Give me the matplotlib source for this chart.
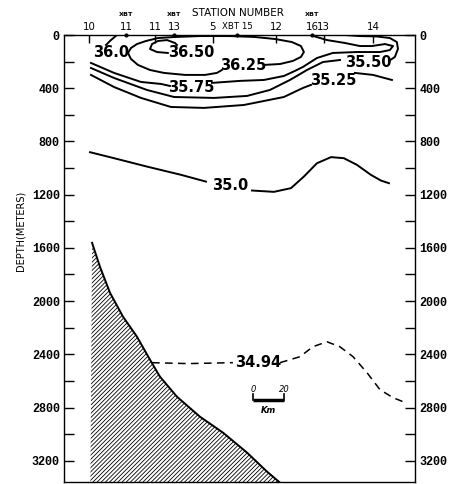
import matplotlib
matplotlib.use('Agg')
import matplotlib.pyplot as plt
from matplotlib import font_manager
from matplotlib.ticker import MultipleLocator

# pick a narrow face if there is one
names = {f.name for f in font_manager.fontManager.ttflist}
if 'Liberation Sans Narrow' in names:
    FAM, K = 'Liberation Sans Narrow', 1.0
else:
    FAM, K = 'DejaVu Sans', 0.78
plt.rcParams['font.family'] = FAM
plt.rcParams['hatch.linewidth'] = 0.6

# stations along the section (km)
stations = ['10', '11', '5', '12', '13', '14']
station_km = [16.1, 58.7, 96.1, 136.8, 167.7, 199.4]
xbt_num = ['11', '13', '15', '16']
xbt_km = [40.0, 71.0, 111.6, 160.0]

# salinity isolines: list of (km, depth) segments, label (text, km, depth)
s3650 = [([67, 60, 55.5, 56.8, 60.6, 66.5, 71.6, 72.9],
          [135, 128, 105, 68, 45, 38, 60, 75])]
s3625 = [([129, 139.4, 147.7, 152.9, 154.8, 152.9, 147.1, 136.1, 123.2, 107.1, 87.7,
           71.6, 60.6, 52.9, 47.1, 43.2, 41.3, 43.2, 47.7, 55.5, 64.5, 78.1, 91,
           98.7, 101.9],
          [225, 218, 195, 165, 128, 83, 53, 30, 15, 8, 8, 15, 23, 45, 68, 98, 135,
           180, 225, 263, 285, 300, 300, 285, 263])]
s3600 = [([34.2, 30.3, 27.1], [0, 38, 75])]
s3575 = [([17.4, 32.3, 49.7, 62.6, 68.4], [210, 285, 353, 368, 383]),
         ([95.5, 113.5, 129, 141.9, 149, 154.2, 163.2, 173.5, 189, 203.9, 210.3,
           212.3, 207.1, 198.7, 191, 181.3, 169.7, 158.7],
          [360, 345, 338, 308, 270, 240, 173, 135, 128, 128, 113, 83, 68, 83, 83,
           60, 38, 0])]
s3550 = [([17.4, 32.3, 53.5, 71, 96.8, 118.1, 132.9, 145.8, 156.8, 167.1, 178.1],
          [248, 323, 413, 466, 473, 458, 413, 338, 263, 203, 188]),
         ([209.7, 213.5, 215.5, 214.8, 210.3, 201.9, 191, 181.3],
          [195, 165, 105, 53, 23, 11, 8, 0])]
s3525 = [([17.4, 32.3, 49.7, 69, 90.3, 116.1, 141.9, 154.2, 159.4],
          [300, 391, 473, 541, 548, 526, 466, 398, 375]),
         ([187.7, 199.4, 211.6], [285, 300, 338])]
s3500 = [([16.8, 32.3, 53.5, 75.5, 91.6], [881, 926, 989, 1051, 1102]),
         ([121.3, 135.5, 146.5, 154.8, 163.2, 172.3, 180.6, 189, 198, 204.5, 209.7],
          [1169, 1179, 1151, 1064, 964, 918, 926, 976, 1051, 1094, 1114])]
s3494 = [([56.8, 80, 109], [2463, 2470, 2463]),
         ([139.4, 152.3, 160.6, 169.7, 178, 186.5, 195.5, 203.9, 212.3, 218.7],
          [2463, 2418, 2343, 2306, 2343, 2418, 2538, 2666, 2726, 2756])]

labels = [('36.0', 30.3, 131), ('36.50', 81.9, 135), ('36.25', 115.5, 229),
          ('35.75', 81.9, 398), ('35.50', 196.1, 210), ('35.25', 173.5, 345),
          ('35.0', 107.1, 1130), ('34.94', 125.2, 2463)]

# bottom profile
floor_km = [18.1, 23.2, 29.7, 38.1, 47.1, 55.5, 61.9, 72.9, 87.7, 102.6, 118.1, 131.0, 139.4]
floor_m = [1562, 1742, 1938, 2118, 2268, 2441, 2568, 2719, 2869, 2989, 3139, 3282, 3365]

fig = plt.figure(figsize=(4.52, 4.84), dpi=100)
ax = fig.add_axes([64 / 452, 2 / 484, 351 / 452, 447 / 484])
ax.set_xlim(0, 226.5)
ax.set_ylim(3360, 0)

for segs in [s3650, s3625, s3600, s3575, s3550, s3525, s3500]:
    for xs, ds in segs:
        ax.plot(xs, ds, color='black', lw=1.4)
for xs, ds in s3494:
    ax.plot(xs, ds, color='black', lw=1.1, dashes=(5, 3.5))

for txt, x, d in labels:
    ax.text(x, d, txt, ha='center', va='center', fontsize=13.5 * K,
            fontweight='bold')

# hatched bottom
ax.fill(floor_km + [139.4, 17.0], floor_m + [3420, 3420], facecolor='white',
        edgecolor='black', hatch='////////', linewidth=0)
ax.plot(floor_km, floor_m, color='black', lw=1.4)

# scale bar
bar_km = [122, 142]
ax.plot(bar_km, [2741, 2741], color='black', lw=2.5, solid_capstyle='butt')
for bx in bar_km:
    ax.plot([bx, bx], [2700, 2745], color='black', lw=1.2)
ax.text(bar_km[0], 2662, '0', ha='center', va='center', fontsize=6, style='italic')
ax.text(bar_km[1], 2662, '20', ha='center', va='center', fontsize=6, style='italic')
ax.text(sum(bar_km) / 2, 2824, 'Km', ha='center', va='center', fontsize=6,
        style='italic', fontweight='bold')

# depth axes on both sides
ax.yaxis.set_major_locator(MultipleLocator(400))
ax.yaxis.set_minor_locator(MultipleLocator(200))
ax.tick_params(axis='y', which='both', direction='in', left=True, right=True,
               labelleft=True, labelright=True, length=7, width=1)
ax.tick_params(axis='y', which='major', pad=3)
for lab in ax.get_yticklabels():
    lab.set_fontfamily('Liberation Mono')
    lab.set_fontsize(8.5)
    lab.set_fontweight('bold')

# station ticks on top
ax.set_xticks(station_km, stations)
ax.tick_params(axis='x', bottom=False, labelbottom=False, top=True, labeltop=True,
               direction='in', length=6, width=1, pad=2, labelsize=9.5 * K)
ax.plot(xbt_km, [0] * len(xbt_km), 'k.', ms=4, clip_on=False, zorder=5)
xt = ax.get_xaxis_transform()
for n, x in zip(xbt_num, xbt_km):
    if n == '15':
        ax.text(x, 1.018, 'XBT 15', transform=xt, ha='center', va='center',
                fontsize=8 * K)
    else:
        ax.text(x, 1.045, 'XBT', transform=xt, ha='center', va='center',
                fontsize=6 * K, fontweight='bold')
        ax.text(x, 1.018, n, transform=xt, ha='center', va='center',
                fontsize=9.5 * K)

ax.text(0.496, 1.049, 'STATION NUMBER', transform=ax.transAxes, ha='center',
        va='center', fontsize=7.5)
ax.text(-0.125, 0.5615, 'DEPTH(METERS)', transform=ax.transAxes, rotation=90,
        ha='center', va='center', fontsize=7)

for sp in ax.spines.values():
    sp.set_linewidth(1.0)

fig.savefig('out.png', dpi=100)
